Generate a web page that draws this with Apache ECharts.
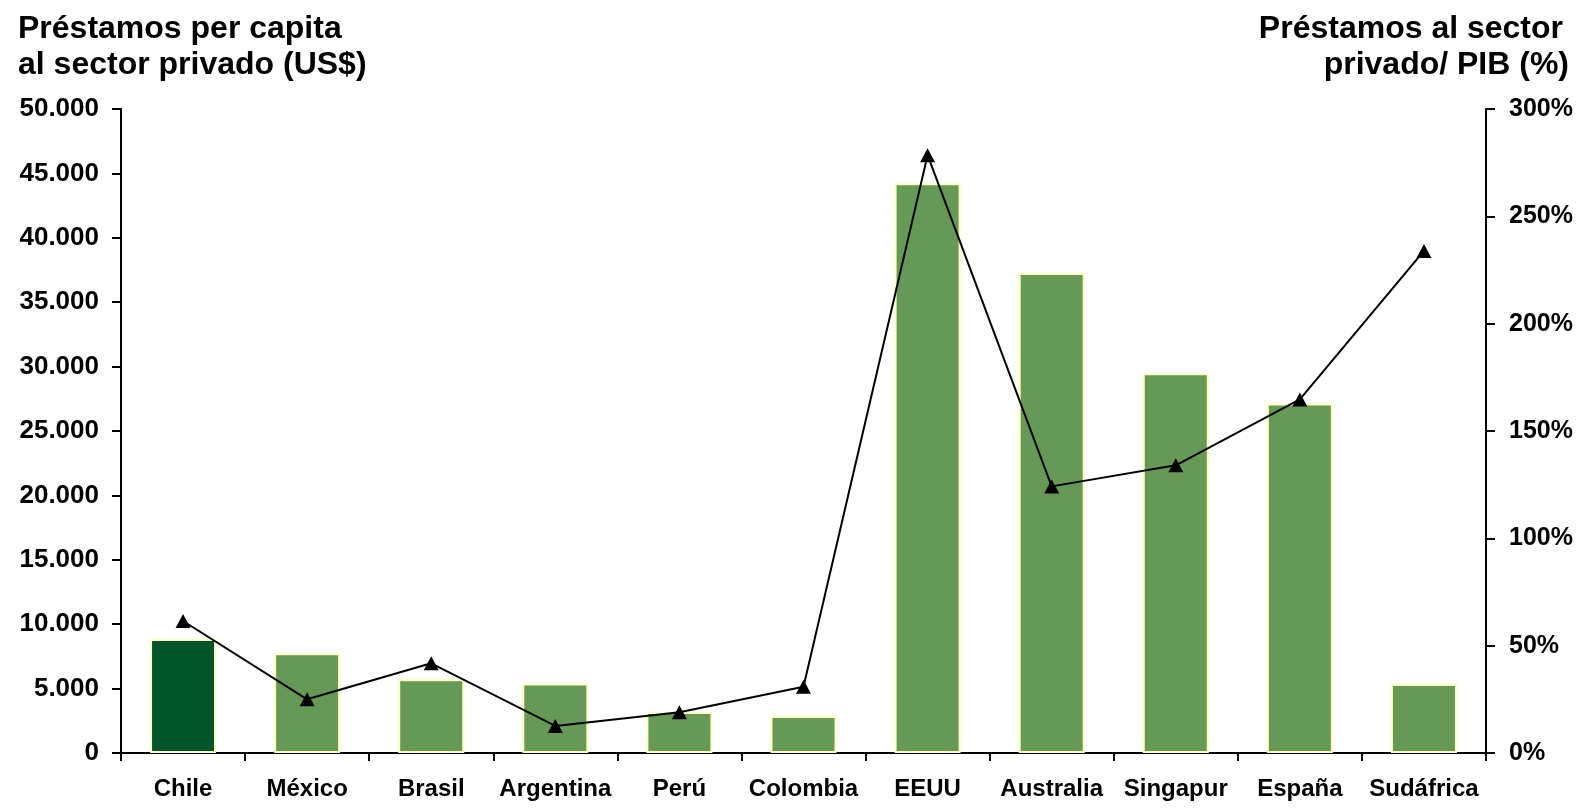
<!DOCTYPE html>
<html>
<head>
<meta charset="utf-8">
<script src="https://cdn.jsdelivr.net/npm/echarts@6/dist/echarts.min.js"></script>
<style>
  html, body { margin: 0; padding: 0; background: #fff; }
  #chart { width: 1585px; height: 809px; }
</style>
</head>
<body>
<div id="chart"></div>
<script>
// Préstamos al sector privado: per capita (barras) y sobre PIB (línea)
const categories = ['Chile', 'México', 'Brasil', 'Argentina', 'Perú', 'Colombia', 'EEUU', 'Australia', 'Singapur', 'España', 'Sudáfrica'];
const perCapita = [8850, 7740, 5720, 5390, 3180, 2870, 44230, 37270, 29490, 27130, 5360];
const creditGdp = [61.5, 25, 41.8, 12.6, 19, 30.9, 278.5, 124.2, 134, 164.7, 233.9];

const font = 'Liberation Sans, Arial, sans-serif';
const highlight = 'Chile';

const fmtThousands = v => String(v).replace(/\B(?=(\d{3})+(?!\d))/g, '.');

const chart = echarts.init(document.getElementById('chart'));

const titleStyle = txt => ({ text: txt, font: 'bold 32px ' + font, fill: '#000' });

const option = {
    animation: false,
    backgroundColor: '#fff',
    grid: { left: 121, right: 99, top: 109, bottom: 56, containLabel: false },
    graphic: [
        { type: 'text', left: 18, top: 13, style: titleStyle('Préstamos per capita') },
        { type: 'text', left: 18, top: 49, style: titleStyle('al sector privado (US$)') },
        // right titles, one element per line so each is right aligned
        { type: 'text', right: 22, top: 13, style: titleStyle('Préstamos al sector') },
        { type: 'text', right: 16, top: 49, style: titleStyle('privado/ PIB (%)') }
    ],
    xAxis: {
        type: 'category',
        data: categories,
        axisLine: { lineStyle: { color: '#000', width: 2 } },
        axisTick: { show: true, length: 8, lineStyle: { color: '#000', width: 2 } },
        axisLabel: { color: '#000', fontSize: 24, fontWeight: 'bold', fontFamily: font, margin: 24, interval: 0 }
    },
    yAxis: [
        {
            type: 'value', min: 0, max: 50000, interval: 5000,
            axisLine: { show: true, lineStyle: { color: '#000', width: 2 } },
            axisTick: { show: true, length: 9, lineStyle: { color: '#000', width: 2 } },
            splitLine: { show: false },
            axisLabel: { color: '#000', fontSize: 26, fontWeight: 'bold', fontFamily: font, margin: 22, formatter: fmtThousands }
        },
        {
            type: 'value', min: 0, max: 300, interval: 50, position: 'right',
            axisLine: { show: true, lineStyle: { color: '#000', width: 2 } },
            axisTick: { show: true, length: 9, lineStyle: { color: '#000', width: 2 } },
            splitLine: { show: false },
            axisLabel: { color: '#000', fontSize: 25, fontWeight: 'bold', fontFamily: font, margin: 23, formatter: '{value}%' }
        }
    ],
    series: [
        {
            type: 'bar',
            yAxisIndex: 0,
            barWidth: 66,
            data: perCapita.map((v, i) => ({
                value: v,
                itemStyle: { color: categories[i] === highlight ? '#00552B' : '#669955' }
            })),
            itemStyle: { borderColor: '#FFFFC0', borderWidth: 2 }
        },
        {
            type: 'line',
            yAxisIndex: 1,
            data: creditGdp,
            symbol: 'triangle',
            symbolSize: [15, 14],
            lineStyle: { color: '#000', width: 2 },
            itemStyle: { color: '#000' }
        }
    ]
};

chart.setOption(option);
</script>
</body>
</html>
